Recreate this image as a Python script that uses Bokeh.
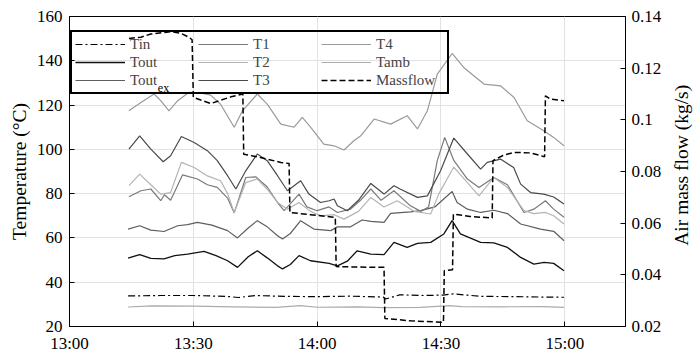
import math
from bokeh.plotting import figure
from bokeh.layouts import row
from bokeh.models import Range1d, LinearAxis, FixedTicker, Legend, LegendItem, Label
from bokeh.embed import file_html
from bokeh.resources import INLINE

# ---------------- data (time = minutes after 13:00) ----------------
x_ticks = [0, 30, 60, 90, 120]
x_tick_labels = ["13:00", "13:30", "14:00", "14:30", "15:00"]
y_ticks = [20, 40, 60, 80, 100, 120, 140, 160]
mf_ticks = [0.02, 0.04, 0.06, 0.08, 0.1, 0.12, 0.14]
mf_tick_labels = ["0.02", "0.04", "0.06", "0.08", "0.1", "0.12", "0.14"]

t_T4 = [14.4, 17.3, 20.5, 22.1, 24.1, 26.2, 28.9, 31.7, 34.2, 36.6, 39.9, 41.9, 45.5, 47.9,
        51.2, 54.4, 56.4, 58.4, 61.6, 64.1, 66.5, 68.9, 70.5, 73.8, 77.8, 81.8, 84.3, 86.7,
        89.1, 92.7, 95.5, 100.4, 104.4, 107.7, 110.9, 114.9, 117.3, 119.8]
v_T4 = [117.4, 121.2, 125.0, 122.0, 117.4, 122.0, 125.7, 125.5, 124.5, 120.4, 110.0, 117.4,
        125.0, 120.4, 111.4, 110.0, 114.4, 110.0, 102.4, 101.6, 99.7, 103.9, 106.0, 113.7,
        111.4, 115.2, 109.2, 117.4, 134.0, 143.3, 137.0, 129.5, 128.7, 123.4, 112.9, 108.4,
        105.4, 101.6]

t_T3 = [14.4, 17.0, 19.7, 22.7, 24.5, 27.1, 30.2, 33.4, 35.8, 38.3, 40.3, 42.7, 45.5, 47.9,
        50.4, 52.8, 56.0, 58.0, 60.8, 62.9, 64.1, 64.9, 67.3, 70.0, 73.0, 76.2, 78.6, 80.2,
        84.3, 86.7, 89.9, 93.1, 96.4, 99.6, 101.2, 104.4, 107.6, 109.3, 111.7, 114.9, 117.3, 119.8]
v_T3 = [100.1, 106.1, 100.1, 94.4, 97.1, 105.8, 103.1, 99.4, 94.9, 88.1, 82.1, 90.3, 97.9, 94.9,
        88.1, 81.3, 85.8, 79.8, 76.0, 76.8, 77.6, 74.5, 72.3, 77.0, 84.6, 79.8, 83.6, 82.0,
        78.3, 79.0, 90.3, 105.1, 97.9, 91.1, 94.1, 95.6, 91.8, 84.3, 80.5, 79.8, 78.5, 75.3]

t_T1 = [14.4, 17.3, 19.7, 22.1, 23.0, 24.5, 27.4, 31.0, 33.4, 35.8, 38.3, 39.9, 42.7, 45.1,
        47.9, 50.4, 52.0, 55.6, 57.5, 60.0, 62.9, 64.9, 68.1, 70.5, 73.0, 75.5, 78.6, 82.6,
        85.1, 87.0, 89.1, 90.9, 93.1, 96.4, 99.2, 102.8, 106.1, 110.1, 112.5, 115.3, 117.3, 119.8]
v_T1 = [78.6, 81.3, 82.1, 76.8, 79.5, 77.0, 88.5, 86.6, 84.0, 82.8, 78.0, 71.3, 87.3, 87.6,
        83.0, 76.0, 72.3, 79.8, 74.0, 72.3, 74.0, 71.5, 73.0, 77.0, 82.1, 77.0, 81.3, 74.5,
        72.0, 74.0, 94.9, 105.4, 95.0, 86.6, 82.8, 87.3, 84.0, 71.5, 73.0, 76.8, 73.0, 69.3]

t_T2 = [14.4, 17.0, 19.7, 22.1, 24.5, 27.1, 30.2, 33.4, 36.6, 38.3, 39.9, 42.7, 45.5, 47.9,
        50.4, 52.8, 55.6, 58.4, 60.8, 64.1, 66.5, 70.0, 73.0, 76.2, 79.4, 83.5, 87.5, 89.5,
        93.1, 96.4, 99.2, 102.8, 106.1, 110.1, 112.5, 115.3, 117.3, 119.8]
v_T2 = [83.6, 88.8, 84.0, 79.8, 80.5, 94.1, 91.8, 88.0, 85.8, 80.0, 71.5, 85.0, 86.6, 82.0,
        76.0, 73.0, 76.0, 72.0, 70.0, 70.5, 68.5, 72.0, 78.3, 74.0, 76.8, 72.0, 70.8, 80.0,
        92.0, 85.0, 79.0, 87.3, 82.8, 72.3, 71.0, 71.5, 70.0, 66.3]

t_Tex = [14.2, 17.0, 19.7, 22.9, 26.2, 28.6, 31.0, 34.5, 38.3, 40.7, 43.3, 45.5, 47.9, 50.4,
         51.6, 53.5, 56.0, 59.2, 63.3, 64.9, 68.1, 70.9, 73.0, 76.2, 77.8, 82.6, 85.1, 88.5,
         92.7, 93.9, 96.4, 99.6, 102.8, 106.1, 109.3, 114.1, 117.3, 119.8]
v_Tex = [64.0, 65.5, 63.5, 62.9, 65.5, 66.0, 67.0, 65.8, 63.3, 60.0, 64.5, 67.8, 65.0, 61.0,
         59.5, 62.0, 67.8, 64.0, 63.3, 65.0, 65.0, 68.1, 67.5, 67.0, 71.1, 71.8, 72.3, 74.0,
         81.0, 76.0, 73.0, 71.5, 72.5, 71.0, 66.3, 64.0, 63.0, 58.7]

t_Tout = [14.2, 17.0, 19.7, 22.9, 25.5, 28.6, 32.6, 35.5, 38.3, 40.7, 43.3, 45.5, 47.9, 50.4,
          51.6, 53.5, 55.6, 58.4, 62.9, 64.9, 67.3, 69.7, 73.0, 76.2, 78.6, 81.8, 84.3, 87.5,
          90.7, 92.7, 94.7, 99.6, 102.8, 106.1, 109.3, 112.5, 115.0, 117.3, 119.8]
v_Tout = [50.9, 52.5, 50.8, 50.5, 52.0, 52.7, 53.9, 52.0, 49.7, 46.7, 51.5, 54.2, 51.0, 47.4,
          46.0, 48.0, 52.0, 49.7, 48.5, 47.4, 49.5, 54.2, 52.7, 52.5, 58.0, 55.7, 57.5, 58.0,
          61.8, 67.8, 61.8, 58.0, 57.8, 55.7, 51.2, 48.2, 49.0, 48.5, 45.2]

t_Tin = [14.2, 22, 30, 38, 41, 45, 52, 60, 68, 76.0, 76.6, 80, 86, 90.5, 93, 100, 108, 114, 119.8]
v_Tin = [33.8, 34.0, 34.0, 33.6, 33.1, 34.0, 33.6, 33.5, 33.7, 33.3, 32.4, 34.3, 34.0, 34.2,
         34.7, 33.6, 33.5, 33.3, 33.2]

t_Tamb = [14.2, 20, 30, 40, 50, 56, 60, 70, 76, 85, 92, 95, 105, 115, 119.8]
v_Tamb = [28.8, 29.3, 29.2, 28.9, 28.6, 29.4, 28.7, 28.9, 28.5, 28.6, 29.4, 29.0, 28.9, 29.0, 28.6]

t_mf = [14.4, 17.3, 19.7, 24.5, 27.0, 29.0, 29.7, 30.0, 34.2, 39.1, 42.0, 42.2, 46.3, 51.2,
        53.2, 53.4, 58.4, 64.4, 64.6, 70, 76.2, 76.4, 82.6, 90.6, 90.8, 92.8, 93.0, 97, 102.4,
        102.6, 105, 107.6, 111.7, 115.1, 115.3, 116.5, 119.8]
v_mf = [0.1315, 0.1320, 0.1332, 0.1341, 0.1335, 0.1319, 0.1310, 0.1087, 0.1063, 0.1089, 0.1100,
        0.0867, 0.0854, 0.0835, 0.0831, 0.0641, 0.0633, 0.0622, 0.0432, 0.0430, 0.0429, 0.0231,
        0.0222, 0.0216, 0.0416, 0.0420, 0.0635, 0.0626, 0.0620, 0.0842, 0.0862, 0.0874, 0.0872,
        0.0857, 0.1093, 0.1080, 0.1074]

right_title_text = ["Air mass flow (kg/s)"]

# ---------------- figure ----------------
FONT = "Liberation Serif"
p = figure(width=672, height=356, output_backend="svg", toolbar_location=None,
           x_range=Range1d(0, 134.7), y_range=Range1d(20, 160),
           min_border_left=69, min_border_right=47, min_border_top=16, min_border_bottom=30)
p.extra_y_ranges = {"mf": Range1d(0.02, 0.14)}
p.outline_line_color = "black"
p.outline_line_alpha = 1.0
p.background_fill_color = "white"

r_tin = p.line(t_Tin, v_Tin, line_color="black", line_width=1.2, line_dash="7 3 2 3")
r_tout = p.line(t_Tout, v_Tout, line_color="#111111", line_width=1.3)
r_tex = p.line(t_Tex, v_Tex, line_color="#5e5e5e", line_width=1.2)
r_t1 = p.line(t_T1, v_T1, line_color="#7a7a7a", line_width=1.2)
r_t2 = p.line(t_T2, v_T2, line_color="#b4b4b4", line_width=1.2)
r_t3 = p.line(t_T3, v_T3, line_color="#4a4a4a", line_width=1.2)
r_t4 = p.line(t_T4, v_T4, line_color="#9a9a9a", line_width=1.2)
r_tamb = p.line(t_Tamb, v_Tamb, line_color="#ababab", line_width=1.2)
r_mf = p.line(t_mf, v_mf, y_range_name="mf", line_color="black", line_width=1.5, line_dash="6 3")

# axes
p.xaxis.ticker = FixedTicker(ticks=x_ticks)
p.xaxis.major_label_overrides = dict(zip(x_ticks, x_tick_labels))
p.yaxis.ticker = FixedTicker(ticks=y_ticks)
p.yaxis.axis_label = "Temperature (°C)"

ax_r = LinearAxis(y_range_name="mf", ticker=FixedTicker(ticks=mf_ticks))
ax_r.major_label_overrides = dict(zip(mf_ticks, mf_tick_labels))
p.add_layout(ax_r, "right")

for ax in [p.xaxis[0], p.yaxis[0], ax_r]:
    ax.axis_line_color = "black"
    ax.major_tick_line_color = "black"
    ax.major_tick_in = 5
    ax.major_tick_out = 0
    ax.minor_tick_line_color = None
    ax.major_label_text_font = FONT
    ax.major_label_text_font_size = "17px"
    ax.major_label_text_color = "black"
    ax.axis_label_text_font = FONT
    ax.axis_label_text_font_size = "19.5px"
    ax.axis_label_text_font_style = "normal"
    ax.axis_label_text_color = "black"
    ax.major_label_standoff = 7
    ax.axis_label_standoff = 4
ax_r.major_label_standoff = 6

p.xgrid.ticker = FixedTicker(ticks=x_ticks)
p.ygrid.ticker = FixedTicker(ticks=y_ticks)
p.xgrid.grid_line_color = "#e2e2e2"
p.ygrid.grid_line_color = "#e2e2e2"

# legend
items = [
    LegendItem(label="Tin", renderers=[r_tin]),
    LegendItem(label="Tout", renderers=[r_tout]),
    LegendItem(label="Tout", renderers=[r_tex]),
    LegendItem(label="T1", renderers=[r_t1]),
    LegendItem(label="T2", renderers=[r_t2]),
    LegendItem(label="T3", renderers=[r_t3]),
    LegendItem(label="T4", renderers=[r_t4]),
    LegendItem(label="Tamb", renderers=[r_tamb]),
    LegendItem(label="Massflow", renderers=[r_mf]),
]
legend = Legend(items=items, ncols=3, orientation="vertical", location=(1, 232),
                label_text_font=FONT, label_text_font_size="15px",
                glyph_width=50, glyph_height=18, label_height=18, label_width=68,
                label_standoff=5, spacing=0, padding=3, margin=0,
                border_line_color="black", border_line_width=2, border_line_alpha=1.0,
                background_fill_alpha=0.0)
p.add_layout(legend)

sub = Label(x=21.4, y=127.5, text="ex", text_font=FONT, text_font_size="12px",
            text_baseline="middle", text_color="black")
p.add_layout(sub)

# narrow strip to the right holding the right-axis title (reads bottom-to-top)
p2 = figure(width=28, height=356, output_backend="svg", toolbar_location=None,
            x_range=Range1d(0, 1), y_range=Range1d(0, 1), min_border=0,
            outline_line_color=None)
p2.axis.visible = False
p2.grid.visible = False
p2.text(x=[0.33], y=[0.52], text=right_title_text, angle=math.pi / 2,
        text_align="center", text_baseline="middle",
        text_font="Liberation Serif", text_font_size="19.5px", text_color="black")

layout = row(p, p2, spacing=0)
open("out.html", "w").write(file_html(layout, INLINE))
